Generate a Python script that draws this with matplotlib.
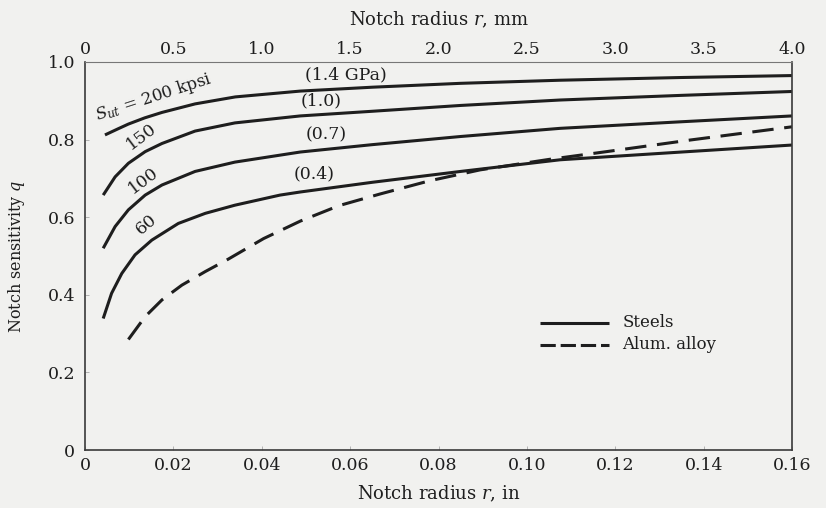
import matplotlib
matplotlib.use('Agg')
import matplotlib.pyplot as plt

# notch radius r (in) and notch sensitivity q
r_200 = [0.0045, 0.0075, 0.0098, 0.0135, 0.0174, 0.0249, 0.034, 0.0487, 0.065, 0.085, 0.1075, 0.135, 0.16]
q_200 = [0.812, 0.828, 0.840, 0.856, 0.870, 0.892, 0.910, 0.925, 0.935, 0.945, 0.953, 0.960, 0.965]

r_150 = [0.0041, 0.0068, 0.0098, 0.0136, 0.0174, 0.0249, 0.0339, 0.0487, 0.065, 0.085, 0.1075, 0.135, 0.16]
q_150 = [0.657, 0.704, 0.739, 0.769, 0.790, 0.822, 0.843, 0.861, 0.873, 0.888, 0.902, 0.914, 0.924]

r_100 = [0.0041, 0.0068, 0.0098, 0.0136, 0.0174, 0.0249, 0.0339, 0.0487, 0.065, 0.085, 0.1075, 0.135, 0.16]
q_100 = [0.520, 0.576, 0.619, 0.657, 0.683, 0.718, 0.742, 0.768, 0.787, 0.808, 0.829, 0.846, 0.861]

r_60 = [0.0041, 0.006, 0.0083, 0.0113, 0.0151, 0.0211, 0.0272, 0.0339, 0.0441, 0.0487, 0.065, 0.085, 0.1075, 0.135, 0.16]
q_60 = [0.339, 0.404, 0.455, 0.503, 0.541, 0.584, 0.610, 0.631, 0.657, 0.665, 0.690, 0.718, 0.748, 0.768, 0.786]

r_alum = [0.0098, 0.0136, 0.0174, 0.0219, 0.0272, 0.0324, 0.0404, 0.0487, 0.0575, 0.0668, 0.078, 0.0894, 0.105, 0.118, 0.137, 0.16]
q_alum = [0.285, 0.344, 0.387, 0.425, 0.460, 0.492, 0.545, 0.590, 0.630, 0.660, 0.694, 0.722, 0.749, 0.769, 0.799, 0.833]

x_ticks = [0, 0.02, 0.04, 0.06, 0.08, 0.10, 0.12, 0.14, 0.16]
x_tick_labels = ['0', '0.02', '0.04', '0.06', '0.08', '0.10', '0.12', '0.14', '0.16']
y_ticks = [0, 0.2, 0.4, 0.6, 0.8, 1.0]
y_tick_labels = ['0', '0.2', '0.4', '0.6', '0.8', '1.0']
mm_ticks = [0, 0.5, 1.0, 1.5, 2.0, 2.5, 3.0, 3.5, 4.0]
mm_tick_labels = ['0', '0.5', '1.0', '1.5', '2.0', '2.5', '3.0', '3.5', '4.0']

plt.rcParams['font.family'] = ['DejaVu Serif']
plt.rcParams['mathtext.fontset'] = 'dejavuserif'
ink = '#1e1e1e'
paper = '#f1f1ef'

fig = plt.figure(figsize=(8.26, 5.08), dpi=100, facecolor=paper)
ax = fig.add_axes([0.103, 0.114, 0.856, 0.764], facecolor=paper)

lw = 2.2
ax.plot(r_200, q_200, color=ink, lw=lw, solid_capstyle='butt', solid_joinstyle='round')
ax.plot(r_150, q_150, color=ink, lw=lw, solid_capstyle='butt', solid_joinstyle='round')
ax.plot(r_100, q_100, color=ink, lw=lw, solid_capstyle='butt', solid_joinstyle='round')
ax.plot(r_60, q_60, color=ink, lw=lw, solid_capstyle='butt', solid_joinstyle='round')
ax.plot(r_alum, q_alum, color=ink, lw=lw, dashes=(7, 3.5))

ax.set_xlim(0, 0.16)
ax.set_ylim(0, 1.0)
ax.set_xticks(x_ticks)
ax.set_xticklabels(x_tick_labels)
ax.set_yticks(y_ticks)
ax.set_yticklabels(y_tick_labels)
ax.tick_params(axis='x', direction='in', length=3, width=0.5, color='#999999',
               labelcolor=ink, labelsize=12.5, pad=5)
ax.tick_params(axis='y', direction='in', length=3, width=0.5, color='#999999',
               labelcolor=ink, labelsize=12.5, pad=7)

for s in ax.spines.values():
    s.set_color('#3a3a3a')
    s.set_linewidth(1.2)
ax.spines['top'].set_color('#777777')
ax.spines['top'].set_linewidth(0.8)
ax.spines['top'].set_linestyle((0, (3, 1)))

ax.set_xlabel('Notch radius $r$, in', fontsize=13, color=ink, labelpad=7)
ax.set_ylabel('Notch sensitivity $q$', fontsize=11.5, color=ink, labelpad=15)

# top axis in mm
top = ax.secondary_xaxis('top', functions=(lambda x: x * 25, lambda x: x / 25))
top.set_xticks(mm_ticks)
top.set_xticklabels(mm_tick_labels)
top.tick_params(direction='in', length=0, colors=ink, labelsize=12.5, pad=3)
top.spines['top'].set_visible(False)
top.set_xlabel('Notch radius $r$, mm', fontsize=13, color=ink, labelpad=11)

# curve labels
ax.text(0.0028, 0.849, r'$S_{ut}$ = 200 kpsi', fontsize=12, rotation=18,
        color=ink, ha='left', va='baseline', rotation_mode='anchor')
ax.text(0.0104, 0.772, '150', fontsize=12.5, rotation=37, color=ink,
        ha='left', va='baseline', rotation_mode='anchor')
ax.text(0.0108, 0.660, '100', fontsize=12.5, rotation=37, color=ink,
        ha='left', va='baseline', rotation_mode='anchor')
ax.text(0.0126, 0.553, '60', fontsize=12.5, rotation=40, color=ink,
        ha='left', va='baseline', rotation_mode='anchor')
ax.text(0.0498, 0.966, '(1.4 GPa)', fontsize=12.5, color=ink, ha='left', va='center')
ax.text(0.0487, 0.899, '(1.0)', fontsize=12.5, color=ink, ha='left', va='center')
ax.text(0.0498, 0.811, '(0.7)', fontsize=12.5, color=ink, ha='left', va='center')
ax.text(0.0473, 0.711, '(0.4)', fontsize=12.5, color=ink, ha='left', va='center')

# legend
ax.plot([0.1030, 0.1185], [0.327, 0.327], color=ink, lw=lw, solid_capstyle='butt')
ax.plot([0.1030, 0.1185], [0.271, 0.271], color=ink, lw=lw, dashes=(5, 1.6))
ax.text(0.1216, 0.329, 'Steels', fontsize=12, color=ink, va='center')
ax.text(0.1216, 0.271, 'Alum. alloy', fontsize=12, color=ink, va='center')

fig.savefig('out.png', dpi=100, facecolor=paper)
